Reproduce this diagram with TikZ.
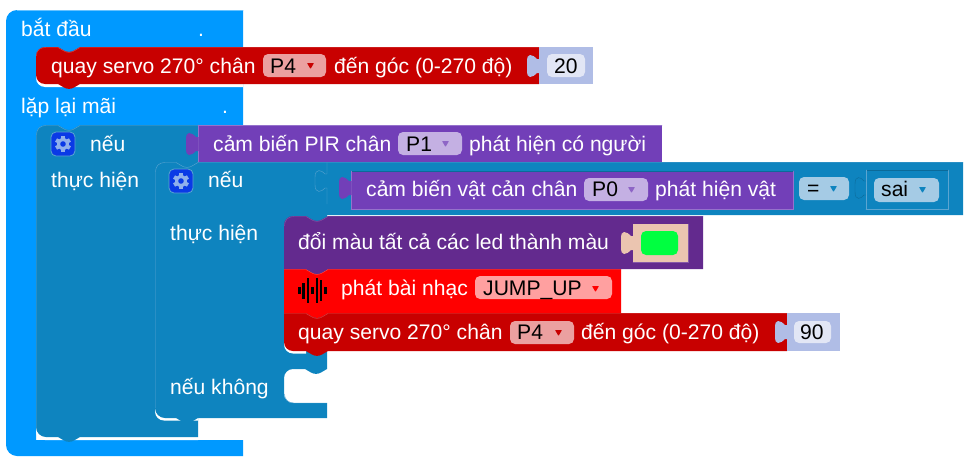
\documentclass[tikz,border=0pt]{standalone}
\usepackage{fontspec}
\setmainfont{Liberation Sans}
\usepackage{xcolor}
\definecolor{startblue}{HTML}{0099FF}
\definecolor{startedge}{HTML}{66C2FF}
\definecolor{logicteal}{HTML}{0E84BF}
\definecolor{logicedge}{HTML}{5BA5D1}
\definecolor{logicdark}{HTML}{0B6A99}
\definecolor{logicfield}{HTML}{A5CBE5}
\definecolor{sensorpurple}{HTML}{723FB8}
\definecolor{sensoredge}{HTML}{9572CC}
\definecolor{sensorfield}{HTML}{C4B0E3}
\definecolor{ledpurple}{HTML}{632A8E}
\definecolor{lededge}{HTML}{8558A8}
\definecolor{servored}{HTML}{C80000}
\definecolor{servoedge}{HTML}{D85050}
\definecolor{servofield}{HTML}{EBA0A0}
\definecolor{soundred}{HTML}{FF0000}
\definecolor{soundedge}{HTML}{FF5858}
\definecolor{soundfield}{HTML}{FFA0A0}
\definecolor{numblue}{HTML}{B0BDE6}
\definecolor{numfield}{HTML}{E2E6F5}
\definecolor{peach}{HTML}{EBC5B0}
\definecolor{swatch}{HTML}{00FF40}
\definecolor{gearbox}{HTML}{0A3AE6}
\definecolor{gearmetal}{HTML}{8FB0EC}
\newcommand{\notchgo}{-- ++(6,3.5) .. controls +(3,1.8) and +(-3,1.8) .. ++(10,0) -- ++(6,-3.5)}
\newcommand{\notchback}{-- ++(-6,3.5) .. controls +(-3,1.8) and +(3,1.8) .. ++(-10,0) -- ++(-6,-3.5)}
\tikzset{
  blocktext/.style={anchor=base west,inner sep=0pt,text=white},
  fieldtext/.style={anchor=base west,inner sep=0pt,text=black},
  fieldbox/.style={rounded corners=5pt},
  droptri/.style={rounded corners=0.6pt},
  intab/.pic={\fill (0.5,-7) -- (-2,-7) .. controls (-4,-9) and (-6,-11) .. (-9,-11) .. controls (-11,-11) and (-12,-9) .. (-12,-4) -- (-12,4) .. controls (-12,9) and (-11,11) .. (-9,11) .. controls (-6,11) and (-4,9) .. (-2,7) -- (0.5,7) -- cycle;},
  gearicon/.pic={
    \fill[fill=gearbox,draw=logicedge,line width=0.8pt,rounded corners=5pt] (-12,-12) rectangle (12,12);
    \foreach \a in {0,60,...,300} {\fill[gearmetal,rotate=\a] (-2,-8) rectangle (2,-4);}
    \fill[gearmetal] (0,0) circle (6pt);
    \fill[gearbox] (0,0) circle (2.8pt);
  }
}
\begin{document}
\begin{tikzpicture}[x=1pt,y=-1pt,font=\fontsize{21.1}{24}\selectfont,line cap=round]
\useasboundingbox (0,0) rectangle (969,463);
\fill[startblue] (243,10) [rounded corners=11pt] -- (6,10) -- (6,456) [sharp corners] -- (243,456) -- (243,440) -- (36,440) -- (36,135) -- (243,135) -- cycle;
\draw[startedge] (243,10.5) -- (17,10.5);
\fill[white] [rounded corners=9pt] (36,70) -- (36,87) [sharp corners] -- (243,87) -- (243,70) -- cycle;
\fill[white] [rounded corners=9pt] (36,420) -- (36,440) [sharp corners] -- (198,440) -- (198,420) -- cycle;
\fill[logicteal] (198,125) -- (80,125) \notchback [rounded corners=10pt] -- (36,125) -- (36,437) [sharp corners] -- (58,437) \notchgo -- (198,437) -- cycle;
\draw[logicedge] (36.5,428) -- (36.5,135) .. controls (36.5,129) and (40,125.5) .. (46,125.5) -- (58,125.5) \notchgo -- (198,125.5);
\fill[white] [rounded corners=9pt] (155,400) -- (155,420.5) [sharp corners] -- (198,420.5) -- (198,400) -- cycle;
\fill[logicteal] (963,162) -- (198,162) \notchback [rounded corners=10pt] -- (155,162) -- (155,418) [sharp corners] -- (176,418) \notchgo -- (327,418) -- (327,403) [rounded corners=9pt] -- (284,403) -- (284,369) [sharp corners] -- (305,369) \notchgo -- (327,369) -- (327,215) -- (963,215) -- cycle;
\draw[logicedge] (155.5,408) -- (155.5,172) .. controls (155.5,166) and (159,162.5) .. (165,162.5) -- (176,162.5) \notchgo -- (963,162.5);
\draw[logicedge] (284.5,394) .. controls (284.5,399) and (288,403) .. (294,403) -- (327,403);
\draw[logicedge] (327,162.5) -- (327,174) -- (325,174) .. controls (322,170) and (315,168) .. (315,177) -- (315,185) .. controls (315,194) and (322,192) .. (325,188) -- (327,188) -- (327,204);
\fill[sensorpurple] (198,125) rectangle (662,162);
\draw[sensoredge] (198,125.5) -- (662,125.5);
\draw[sensoredge] (198.5,125) -- (198.5,162);
\path (198,144) pic[color=sensorpurple] {intab};
\fill[sensorpurple] (351,171) rectangle (793,209);
\draw[sensoredge] (351,209) -- (793,209) -- (793,171);
\draw[logicdark] (351,171) -- (793,171);
\draw[sensoredge] (351,171) -- (351,209);
\path (351,188) pic[color=sensorpurple] {intab};
\draw[logicedge] (866,209) -- (948,209) -- (948,170);
\draw[logicdark] (866,170) -- (948,170);
\draw[logicedge] (866,170) -- (866,209);
\draw[logicdark] (866,181) -- (864,181) .. controls (861,177) and (855,175) .. (855,184) -- (855,192) .. controls (855,201) and (861,199) .. (864,195) -- (866,195);
\fill[white] [rounded corners=9pt] (284,340) -- (284,353.5) [sharp corners] -- (306,353.5) -- (306,340) -- cycle;
\fill[servored] (284,313) -- (306,313) \notchgo -- (787,313) -- (787,351) -- (328,351) \notchback [rounded corners=9pt] -- (284,351) [sharp corners] -- cycle;
\draw[servoedge] (284,313.5) -- (306,313.5) \notchgo -- (787,313.5);
\fill[soundred] (284,269) -- (306,269) \notchgo -- (621,269) -- (621,313) -- (328,313) \notchback -- (284,313) -- cycle;
\draw[soundedge] (284,269.5) -- (306,269.5) \notchgo -- (621,269.5);
\fill[ledpurple] (284,269) [rounded corners=9pt] -- (284,216) [sharp corners] -- (306,216) \notchgo -- (703,216) -- (703,269) -- (328,269) \notchback -- cycle;
\draw[lededge] (284.5,226) .. controls (284.5,220) and (288,216.5) .. (294,216.5) -- (306,216.5) \notchgo -- (703,216.5);
\fill[servored] (539,47) -- (539,84) -- (80,84) \notchback [rounded corners=9pt] -- (36,84) -- (36,47) [sharp corners] -- (58,47) \notchgo -- cycle;
\draw[servoedge] (36.5,56) .. controls (36.5,50) and (40,47.5) .. (46,47.5) -- (58,47.5) \notchgo -- (539,47.5);
\fill[numblue] (539,47) rectangle (593,84);
\path (539,66) pic[color=numblue] {intab};
\fill[numblue] (787,313) rectangle (840,351);
\path (787,332) pic[color=numblue] {intab};
\fill[peach] (633,224) rectangle (688,262);
\draw[lededge] (633,262) -- (688,262) -- (688,224);
\path (633,243) pic[color=peach] {intab};
\fill[swatch,fieldbox] (641,231) rectangle (678,255);
\fill[servofield,fieldbox] (263,54) rectangle (326,77);
\fill[servored,droptri] (307,63) -- (314,63) -- (310.5,69) -- cycle;
\fill[servofield,fieldbox] (510,321) rectangle (574,344);
\fill[servored,droptri] (555,330) -- (562,330) -- (558.5,336) -- cycle;
\fill[numfield,fieldbox] (547,54) rectangle (585,77);
\fill[numfield,fieldbox] (794,321) rectangle (831,343);
\fill[sensorfield,fieldbox] (398,132) rectangle (462,155);
\fill[sensorpurple!80!white,droptri] (442,141) -- (449,141) -- (445.5,147) -- cycle;
\fill[sensorfield,fieldbox] (584,178) rectangle (648,201);
\fill[sensorpurple!80!white,droptri] (628,187) -- (635,187) -- (631.5,193) -- cycle;
\fill[logicfield,fieldbox] (799,177) rectangle (849,200);
\fill[logicteal,droptri] (830,186) -- (837,186) -- (833.5,192) -- cycle;
\fill[logicfield,fieldbox] (874,178) rectangle (939,202);
\fill[logicteal,droptri] (919,187) -- (926,187) -- (922.5,193) -- cycle;
\fill[soundfield,fieldbox] (475,276) rectangle (612,299);
\fill[soundred,droptri] (592,286) -- (599,286) -- (595.5,292) -- cycle;
\path (63,144) pic {gearicon};
\path (181,181) pic {gearicon};
\foreach \x/\h in {299.3/3.7,303.3/8,308/12.7,312.3/3.7,317/12.7,321/10.5,325.7/3.7} {\fill[black] (\x-1.3,290.5-\h) rectangle (\x+1.3,290.5+\h);}
\node[blocktext] (start) at (21,36) {bắt đầu};
\node[blocktext] (startdot) at (198,36) {.};
\node[blocktext] (loop) at (21,113) {lặp lại mãi};
\node[blocktext] (loopdot) at (222,113) {.};
\node[blocktext] (servoa) at (51,73) {quay servo 270° chân};
\node[fieldtext] (pfoura) at (270,73) {P4};
\node[blocktext] (anglea) at (334,73) {đến góc (0-270 độ)};
\node[fieldtext] (numa) at (554,73) {20};
\node[blocktext] (ifa) at (90,151.5) {nếu};
\node[blocktext] (doa) at (51,187) {thực hiện};
\node[blocktext] (pir) at (213,151.5) {cảm biến PIR chân};
\node[fieldtext] (pone) at (406,151.5) {P1};
\node[blocktext] (pirend) at (469,151.5) {phát hiện có người};
\node[blocktext] (ifb) at (208,187) {nếu};
\node[blocktext] (dob) at (170,240) {thực hiện};
\node[blocktext] (obst) at (366,196) {cảm biến vật cản chân};
\node[fieldtext] (pzero) at (592,196) {P0};
\node[blocktext] (obstend) at (655,196) {phát hiện vật};
\node[fieldtext] (eqsign) at (807,195) {=};
\node[fieldtext] (falsev) at (881,196) {sai};
\node[blocktext] (led) at (298,249) {đổi màu tất cả các led thành màu};
\node[blocktext] (music) at (341,295) {phát bài nhạc};
\node[fieldtext] (tune) at (483,295) {JUMP\_UP};
\node[blocktext] (servob) at (298,339) {quay servo 270° chân};
\node[fieldtext] (pfourb) at (517,339) {P4};
\node[blocktext] (angleb) at (581,339) {đến góc (0-270 độ)};
\node[fieldtext] (numb) at (800,339) {90};
\node[blocktext] (elseb) at (170,394) {nếu không};
\end{tikzpicture}
\end{document}
